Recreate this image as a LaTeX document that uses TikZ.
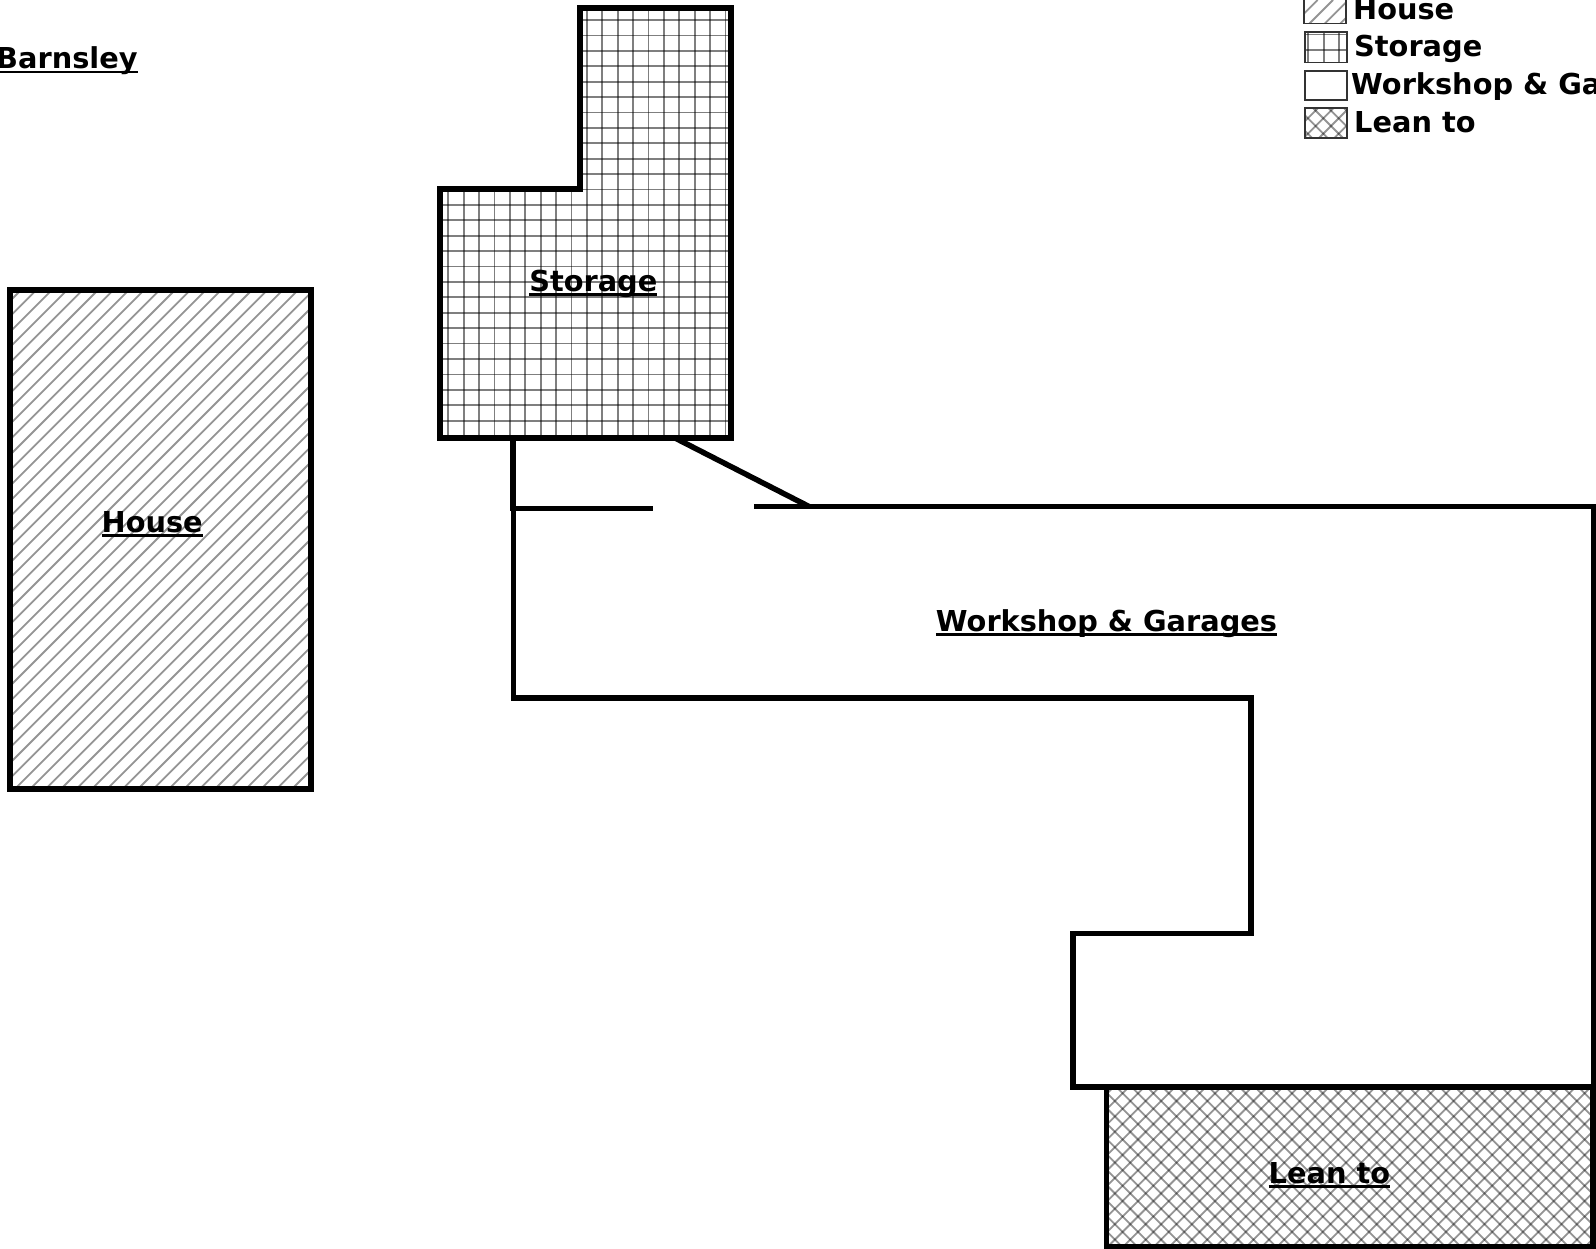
\documentclass[tikz,border=0pt]{standalone}
\usepackage{fontspec}
\setmainfont{DejaVu Sans}
\usepackage{tikz}

\tikzset{
  wallline/.style={draw=black,line width=5.5pt,line cap=butt,line join=miter},
  hatchline/.style={draw=black,opacity=0.42,line width=1.8pt},
  gridline/.style={fill=black,opacity=0.5,draw=none},
  keybox/.style={draw=black!80,line width=1.8pt},
  labeltext/.style={inner sep=0pt,anchor=base,font=\bfseries\fontsize{28.8}{32}\selectfont,text=black},
  keytext/.style={labeltext,anchor=base west}
}

%% underlined label, the rule sits just under the baseline
\newlength{\ulwd}
\newcommand{\ulabel}[1]{\settowidth{\ulwd}{#1}\rlap{\rule[-4.5pt]{\ulwd}{2.6pt}}#1}

%% hatching, drawn inside the current clip; the arguments are the phases
\newcommand{\hatchup}[1]{\foreach \n in {0,1,...,190} {\draw[hatchline] (\n*15.4+#1,0) -- (0,\n*15.4+#1);}}
\newcommand{\hatchdown}[1]{\foreach \n in {-90,-89,...,110} {\draw[hatchline] (\n*15.4+#1,0) -- (\n*15.4+#1+1300,1300);}}
\newcommand{\gridfill}[2]{\foreach \n in {0,1,...,104} {\fill[gridline] (\n*15.4+#1-0.9,-20) rectangle (\n*15.4+#1+0.9,1270);}
  \foreach \n in {0,1,...,83} {\fill[gridline] (-20,\n*15.4+#2-0.9) rectangle (1620,\n*15.4+#2+0.9);}}

\begin{document}
\begin{tikzpicture}[x=1pt,y=-1pt]
  \useasboundingbox (0,0) rectangle (1596,1249);

  %% House
  \begin{scope}
    \clip (10,290) rectangle (311,789);
    \hatchup{3}
  \end{scope}
  \draw[wallline] (10,290) rectangle (311,789);
  \node[labeltext] (HOUSE) at (152.2,532.5) {\ulabel{House}};

  %% Storage
  \begin{scope}
    \clip (440,189) -- (580,189) -- (580,8) -- (731,8) -- (731,438) -- (440,438) -- cycle;
    \gridfill{1.7}{4.8}
  \end{scope}
  \draw[wallline] (440,189) -- (580,189) -- (580,8) -- (731,8) -- (731,438) -- (440,438) -- cycle;
  \node[labeltext] (STORAGE) at (593.3,291.5) {\ulabel{Storage}};

  %% Workshop and garages
  \coordinate (DOORL) at (652.7,508.3);
  \coordinate (DOORR) at (754.3,506.5);
  \coordinate (STUBT) at (512.8,438);
  \coordinate (STUBB) at (512.8,511);
  \coordinate (SLOPET) at (675,438);
  \coordinate (SLOPEB) at (809,506.5);
  \draw[wallline] (DOORR) -- (1593.5,506.5) -- (1593.5,1087) -- (1073,1087) -- (1073,933.5) -- (1251,933.5)
    -- (1251,698) -- (513.7,698) -- (513.7,508.3) -- (DOORL);
  \draw[wallline] (STUBT) -- (STUBB);
  \draw[wallline] (SLOPET) -- (SLOPEB);
  \node[labeltext] (WORKSHOP) at (1106.5,631) {\ulabel{Workshop \& Garages}};

  %% Lean to
  \begin{scope}
    \clip (1106.7,1087) rectangle (1593,1247);
    \hatchup{13.7}
    \hatchdown{13.9}
  \end{scope}
  \draw[wallline] (1106.7,1087) rectangle (1593,1247);
  \node[labeltext] (LEANTO) at (1329.4,1183) {\ulabel{Lean to}};

  %% Title
  \node[keytext] (BARNSLEY) at (-4,69) {\ulabel{Barnsley}};

  %% Key
  \begin{scope}
    \clip (1304,-8) rectangle (1346,24);
    \hatchup{8.6}
  \end{scope}
  \draw[keybox] (1304,-8) rectangle (1346,23.5);
  \begin{scope}
    \clip (1305,32) rectangle (1347,62.5);
    \gridfill{14.7}{3.8}
  \end{scope}
  \draw[keybox] (1305,32) rectangle (1347,62.5);
  \draw[keybox] (1305,71) rectangle (1347,100);
  \begin{scope}
    \clip (1305,108) rectangle (1347,138);
    \hatchup{9.4}
    \hatchdown{3.8}
  \end{scope}
  \draw[keybox] (1305,108) rectangle (1347,138);
  \node[keytext] (KEYHOUSE) at (1353,20) {House};
  \node[keytext] (KEYSTORAGE) at (1354,56.5) {Storage};
  \node[keytext] (KEYWORKSHOP) at (1351,94.5) {Workshop \& Garages};
  \node[keytext] (KEYLEAN) at (1354,133) {Lean to};
\end{tikzpicture}
\end{document}
